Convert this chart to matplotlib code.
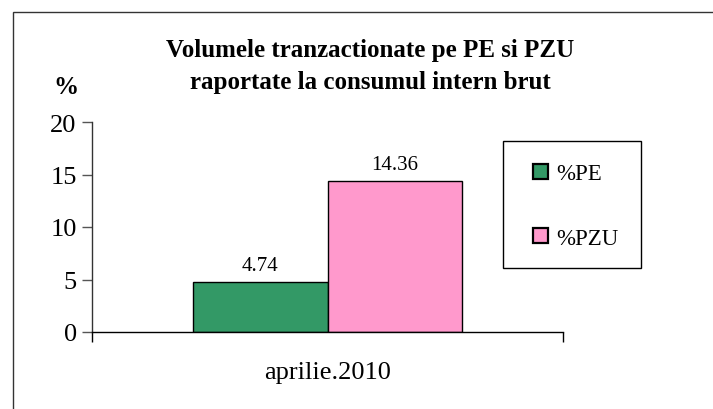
import matplotlib
matplotlib.use("Agg")
import matplotlib.pyplot as plt
from matplotlib.patches import Rectangle

categories = ["aprilie.2010"]
series_names = ["%PE", "%PZU"]
pe_values = [4.74]
pzu_values = [14.36]
yticks = [0, 5, 10, 15, 20]
colors = ["#339966", "#FF99CC"]

plt.rcParams["font.family"] = ["Liberation Serif", "DejaVu Serif"]

W, H = 713, 410
fig = plt.figure(figsize=(W / 100, H / 100), dpi=100)
fig.patch.set_facecolor("white")

# outer chart border (extends beyond right/bottom edges)
fig.patches.append(Rectangle((13 / W, -0.1), 1.2, (H - 13) / H + 0.1,
                             transform=fig.transFigure, fill=False,
                             edgecolor="#333333", linewidth=1.0))

ax = fig.add_axes([92 / W, (H - 333) / H, 471 / W, 210 / H])
bw = 0.286
x = 0
b1 = ax.bar(x - bw / 2, pe_values, width=bw, color=colors[0], edgecolor="black",
            linewidth=1.0, label=series_names[0])
b2 = ax.bar(x + bw / 2, pzu_values, width=bw, color=colors[1], edgecolor="black",
            linewidth=1.0, label=series_names[1])
for bars, vals in ((b1, pe_values), (b2, pzu_values)):
    for r, v in zip(bars, vals):
        ax.annotate(f"{v:.2f}", (r.get_x() + r.get_width() / 2, v),
                    xytext=(0, 5), textcoords="offset points",
                    ha="center", va="bottom", fontsize=15)

ax.set_xlim(-0.5, 0.5)
ax.set_ylim(0, 20)
ax.set_yticks(yticks)
ax.set_yticklabels([str(t) for t in yticks], fontsize=19)
ax.set_xticks([0])
ax.set_xticklabels(categories, fontsize=19)
ax.set_xticks([-0.5, 0.5], minor=True)
ax.tick_params(axis="x", which="major", length=0, pad=21)
ax.tick_params(axis="x", which="minor", length=7, direction="out", width=1)
ax.tick_params(axis="y", length=7, direction="out", width=1, color="#555555", pad=4)
for s in ("top", "right"):
    ax.spines[s].set_visible(False)
for s in ("left", "bottom"):
    ax.spines[s].set_linewidth(1.0)
ax.spines["left"].set_color("#333333")

fig.text(370 / W, 1 - 51 / H, "Volumele tranzactionate pe PE si PZU",
         ha="center", va="center", fontsize=18, fontweight="bold")
fig.text(370 / W, 1 - 83 / H, "raportate la consumul intern brut",
         ha="center", va="center", fontsize=18, fontweight="bold")
fig.text(66 / W, 1 - 87 / H, "%", ha="center", va="center",
         fontsize=18, fontweight="bold")

# legend frame
fig.patches.append(Rectangle((503 / W, 1 - 269 / H), 138 / W, 127 / H,
                             transform=fig.transFigure, facecolor="white",
                             edgecolor="black", linewidth=1.0))
leg = fig.legend(handles=[b1, b2], labels=series_names,
                 loc="center left",
                 bbox_to_anchor=(533 / W, 1 - 207 / H),
                 frameon=False, fontsize=16.5,
                 handlelength=0.65, handleheight=0.65, handletextpad=0.35,
                 labelspacing=1.9, borderpad=0, borderaxespad=0)
for h in leg.legend_handles:
    h.set_linewidth(1.6)

fig.savefig("out.png", dpi=100)
